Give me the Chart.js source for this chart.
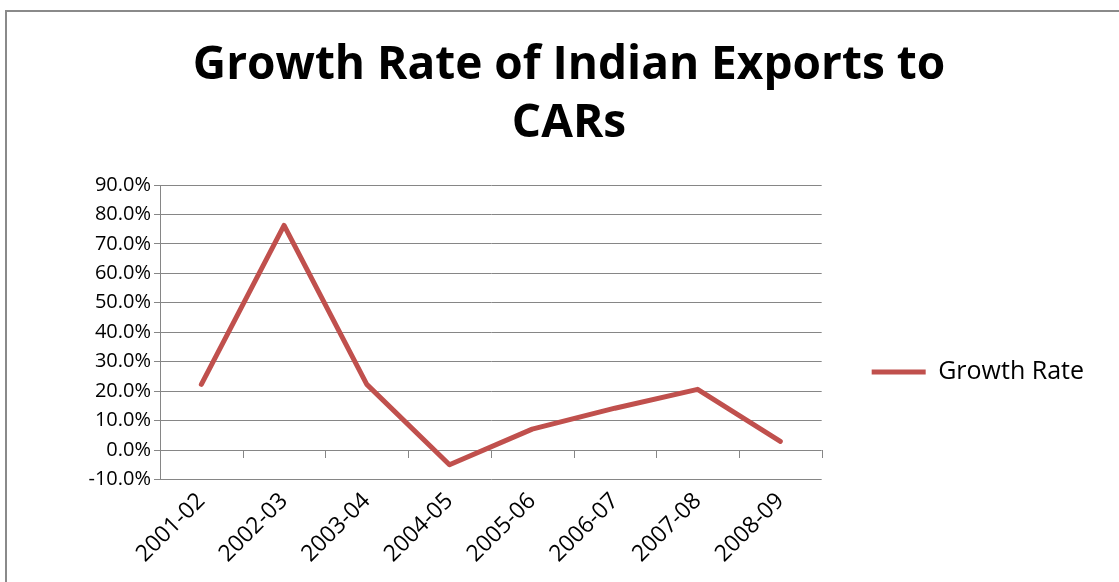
<!DOCTYPE html>
<html>
<head>
<meta charset="utf-8">
<script src="https://cdn.jsdelivr.net/npm/chart.js@4"></script>
<style>
  html, body { margin: 0; padding: 0; background: #fff; overflow: hidden; }
  #box {
    position: absolute; left: 5px; top: 10px;
    width: 1200px; height: 700px;
    border: 2px solid #8a8a8a;
  }
  #chart { display: block; }
</style>
</head>
<body>
<div id="box"><canvas id="chart" width="1112" height="570"></canvas></div>
<script>
// values (percent)
const years = ['2001-02', '2002-03', '2003-04', '2004-05', '2005-06', '2006-07', '2007-08', '2008-09'];
const growthRate = [22.3, 76.3, 22.3, -5.0, 7.1, 14.2, 20.6, 2.9];
const titleLines = ['Growth Rate of Indian Exports to', 'CARs'];
const seriesName = 'Growth Rate';

const lineColor = '#C0504D';
const gridColor = '#868686';

// Excel-style tick marks on the category axis, which crosses at 0%
const zeroAxisTicks = {
  id: 'zeroAxisTicks',
  beforeDatasetsDraw(chart) {
    const x = chart.scales.x, y = chart.scales.y;
    const ctx = chart.ctx;
    const y0 = y.getPixelForValue(0);
    const step = x.width / years.length;
    ctx.save();
    ctx.strokeStyle = gridColor;
    ctx.lineWidth = 1;
    ctx.beginPath();
    for (let i = 0; i <= years.length; i++) {
      const px = Math.round(x.left + i * step) + 0.5;
      ctx.moveTo(px, y0);
      ctx.lineTo(px, y0 + 8);
    }
    ctx.stroke();
    ctx.restore();
  }
};

new Chart(document.getElementById('chart').getContext('2d'), {
  type: 'line',
  data: {
    labels: years,
    datasets: [{
      label: seriesName,
      data: growthRate,
      borderColor: lineColor,
      backgroundColor: lineColor,
      borderWidth: 5,
      pointRadius: 0,
      tension: 0,
      fill: false,
      borderJoinStyle: 'round',
      borderCapStyle: 'round',
    }],
  },
  options: {
    responsive: false,
    animation: false,
    layout: { padding: { left: 37, right: 25, top: 0, bottom: 6 } },
    plugins: {
      title: {
        display: true,
        text: titleLines,
        color: '#000',
        font: { family: 'Open Sans', size: 46, weight: 'bold', lineHeight: 1.261 },
        padding: { top: 25, bottom: 32 },
      },
      legend: {
        position: 'right',
        maxWidth: 400,
        // empty legend title only pushes the entry down to where Excel puts it
        title: { display: true, text: '', font: { size: 1, lineHeight: 1 }, padding: { top: 155, bottom: 0 } },
        labels: {
          boxWidth: 54,
          boxHeight: 5,
          padding: 50,
          color: '#000',
          font: { family: 'Open Sans', size: 25 },
          generateLabels: () => [{
            text: seriesName,
            fillStyle: lineColor,
            strokeStyle: lineColor,
            fontColor: '#000',
            lineWidth: 0,
            hidden: false,
            datasetIndex: 0,
          }],
        },
      },
      tooltip: { enabled: false },
    },
    scales: {
      x: {
        offset: true,
        grid: { display: false, drawTicks: false },
        border: { display: false },
        ticks: {
          color: '#000',
          font: { family: 'Open Sans', size: 23 },
          maxRotation: 45,
          minRotation: 45,
          padding: 8,
        },
      },
      y: {
        min: -10,
        max: 90,
        afterFit: s => { s.width = 116; },
        grid: { color: gridColor, tickLength: 6 },
        border: { display: true, color: gridColor },
        ticks: {
          stepSize: 10,
          color: '#000',
          font: { family: 'Open Sans', size: 20 },
          padding: 3,
          callback: v => v.toFixed(1) + '%',
        },
      },
    },
  },
  plugins: [zeroAxisTicks],
});
</script>
</body>
</html>
